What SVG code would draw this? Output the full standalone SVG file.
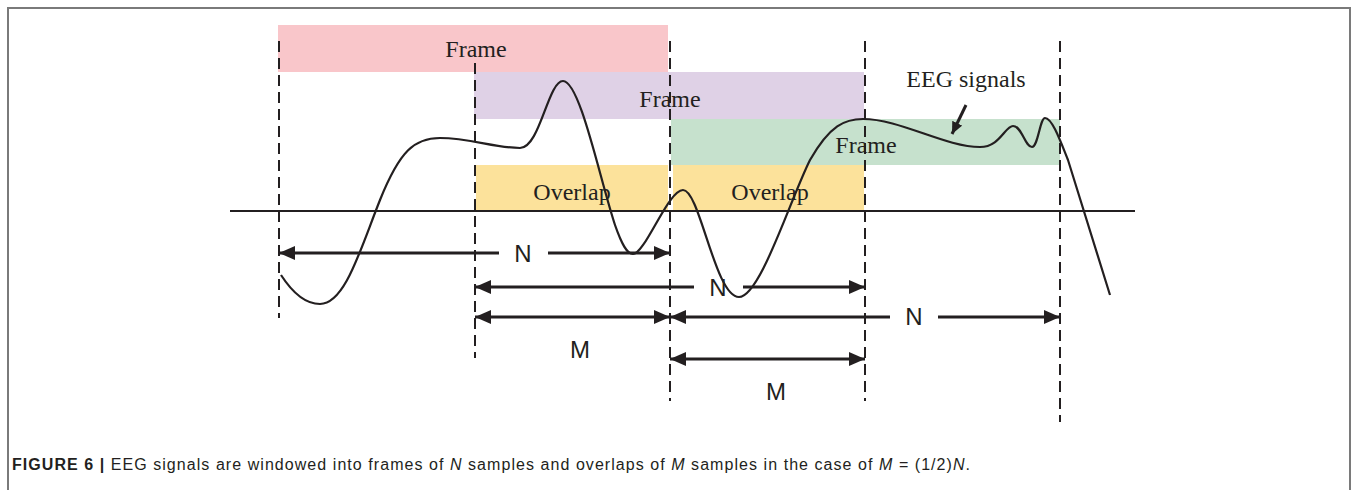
<svg xmlns="http://www.w3.org/2000/svg" width="1358" height="490" viewBox="0 0 1358 490">
<style>
.serif{font-family:"Liberation Serif","Times New Roman",serif;font-size:24px;fill:#231f20;text-anchor:middle}
.sans{font-family:"Liberation Sans",Arial,sans-serif;font-size:24px;fill:#231f20;text-anchor:middle}
.dash{stroke:#231f20;stroke-width:2;stroke-dasharray:11 6;fill:none}
.dim{stroke:#231f20;stroke-width:3;fill:none}
.cap{font-family:"Liberation Sans",Arial,sans-serif;font-size:16px;fill:#231f20}
</style>
<defs>
<marker id="ah" markerUnits="userSpaceOnUse" viewBox="0 0 16 14" markerWidth="16" markerHeight="14" refX="16" refY="7" orient="auto-start-reverse">
<path d="M0,0 L16,7 L0,14 z" fill="#231f20"/>
</marker>
<marker id="ahs" markerUnits="userSpaceOnUse" viewBox="0 0 12 11" markerWidth="12" markerHeight="11" refX="12" refY="5.5" orient="auto">
<path d="M0,0 L12,5.5 L0,11 z" fill="#231f20"/>
</marker>
</defs>
<rect x="8" y="8" width="1342" height="500" fill="#fff" stroke="#7a7a7a" stroke-width="2"/>

<g id="frame1"><rect x="278" y="25" width="390" height="47" fill="#f9c6ca"/><text class="serif" x="476" y="57">Frame</text></g>
<g id="frame2"><rect x="474" y="72" width="390" height="47" fill="#dfd1e6"/><text class="serif" x="670" y="107">Frame</text></g>
<g id="frame3"><rect x="671" y="119" width="389" height="46" fill="#c6e1cd"/><text class="serif" x="866" y="153">Frame</text></g>
<g id="overlap1"><rect x="476" y="165" width="192" height="45" fill="#fce29b"/><text class="serif" x="572" y="200">Overlap</text></g>
<g id="overlap2"><rect x="673" y="165" width="191" height="45" fill="#fce29b"/><text class="serif" x="770" y="200">Overlap</text></g>
<g id="eeg-label"><text class="serif" x="966" y="87">EEG signals</text></g>

<g id="guides">
<line class="dash" x1="279" y1="41" x2="279" y2="318"/>
<line class="dash" x1="475" y1="63" x2="475" y2="358"/>
<line class="dash" x1="670" y1="41" x2="670" y2="401"/>
<line class="dash" x1="865" y1="41" x2="865" y2="401"/>
<line class="dash" x1="1060" y1="41" x2="1060" y2="422"/>
</g>

<g id="axis"><line x1="230" y1="211" x2="1135" y2="211" stroke="#231f20" stroke-width="2"/></g>

<g id="signal">
<path d="M281,275 C292,292 305,304 320,304 C345,304 360,250 380,200 C400,150 415,138 440,138 C470,138 495,148 520,148 C540,148 548,81 563,81 C580,81 600,180 615,225 C622,245 627,254 633,254 C645,254 668,190 683,190 C700,190 715,297 739,297 C760,297 790,200 810,160 C830,125 845,119 863,119 C900,119 945,147 980,147 C1000,147 1005,126 1013,126 C1022,126 1025,147 1032,147 C1038,147 1040,118 1045,118 C1052,118 1060,140 1068,160 L1110,295" fill="none" stroke="#231f20" stroke-width="2.2"/>
</g>

<g id="connectors">
<line class="dim" x1="966" y1="105" x2="952" y2="134" marker-end="url(#ahs)"/>
<line class="dim" x1="499" y1="253" x2="279" y2="253" marker-end="url(#ah)"/>
<line class="dim" x1="548" y1="253" x2="670" y2="253" marker-end="url(#ah)"/>
<line class="dim" x1="694" y1="287" x2="475" y2="287" marker-end="url(#ah)"/>
<line class="dim" x1="743" y1="287" x2="865" y2="287" marker-end="url(#ah)"/>
<line class="dim" x1="475" y1="317" x2="670" y2="317" marker-start="url(#ah)" marker-end="url(#ah)"/>
<line class="dim" x1="890" y1="317" x2="670" y2="317" marker-end="url(#ah)"/>
<line class="dim" x1="938" y1="317" x2="1060" y2="317" marker-end="url(#ah)"/>
<line class="dim" x1="670" y1="359" x2="865" y2="359" marker-start="url(#ah)" marker-end="url(#ah)"/>
</g>

<g id="dim-labels">
<text class="sans" x="523" y="262">N</text>
<text class="sans" x="718" y="296">N</text>
<text class="sans" x="914" y="325">N</text>
<text class="sans" x="580" y="358">M</text>
<text class="sans" x="776" y="400">M</text>
</g>

<g id="caption">
<text class="cap" x="12" y="470" textLength="958" lengthAdjust="spacing"><tspan font-weight="bold">FIGURE 6 |</tspan> EEG signals are windowed into frames of <tspan font-style="italic">N</tspan> samples and overlaps of <tspan font-style="italic">M</tspan> samples in the case of <tspan font-style="italic">M</tspan> = (1/2)<tspan font-style="italic">N</tspan>.</text>
</g>
</svg>
